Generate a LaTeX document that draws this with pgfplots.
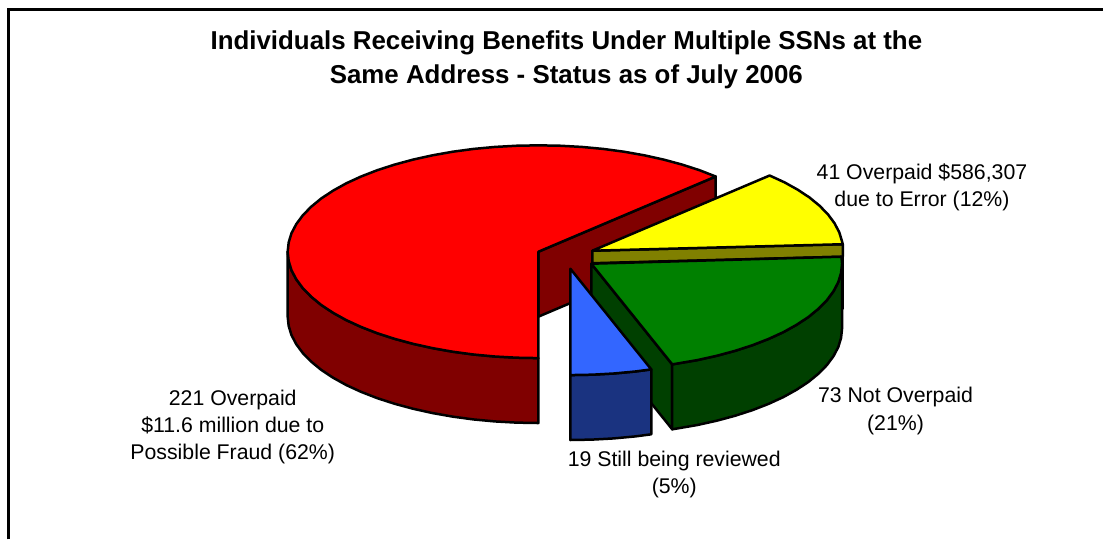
\documentclass[border=0pt]{standalone}
\usepackage{pgfplots}
\pgfplotsset{compat=1.18}
\usepackage{fontspec}
\setmainfont{Liberation Sans}
\definecolor{redtop}{HTML}{FF0000}
\definecolor{redwall}{HTML}{800000}
\definecolor{yeltop}{HTML}{FFFF00}
\definecolor{yelwall}{HTML}{808000}
\definecolor{grntop}{HTML}{008000}
\definecolor{grnwall}{HTML}{004000}
\definecolor{blutop}{HTML}{3366FF}
\definecolor{bluwall}{HTML}{1A3380}
\newcommand{\lab}{\fontsize{21.3}{24}\selectfont}
\newcommand{\ttl}{\fontsize{25.9}{28}\selectfont\bfseries}
\tikzset{lbl/.style={anchor=base, text=black, inner sep=0pt}}
\begin{document}
\begin{tikzpicture}
\begin{axis}[
  width=1104pt, height=540pt, scale only axis,
  xmin=0, xmax=1104, ymin=0, ymax=540, y dir=reverse,
  hide axis, clip=false,
  every axis plot/.append style={draw=black, line width=2.5pt, line join=round}
]
% keeps the page at the full chart size
\path (axis cs:0,0) rectangle (axis cs:1104,540);
% frame, only top and left
\addplot[line width=2.5pt, line join=miter] coordinates {(8.7,540) (8.7,9.5) (1104,9.5)};

% red slice: cut wall, outer wall, top
\addplot[fill=redwall] coordinates {(539,252) (716.5,176.7) (716.5,241.7) (539,317)} -- cycle;
\addplot[fill=redwall] coordinates {
  (288,252) (289,261.3) (291.8,270.5) (296.6,279.6) (303.1,288.4) (311.5,297)
  (321.6,305.3) (333.4,313.1) (346.7,320.5) (361.5,327.3) (377.7,333.6) (395,339.2)
  (413.5,344.2) (432.9,348.5) (453.2,352.1) (474,354.9) (495.4,356.9) (517.1,358.1) (539,358.5)
  (539,423.5) (517.1,423.1) (495.4,421.9) (474,419.9) (453.2,417.1) (432.9,413.5) (413.5,409.2)
  (395,404.2) (377.7,398.6) (361.5,392.3) (346.7,385.5) (333.4,378.1) (321.6,370.3) (311.5,362)
  (303.1,353.4) (296.6,344.6) (291.8,335.5) (289,326.3) (288,317)} -- cycle;
\addplot[fill=redtop] coordinates {
  (539,252) (716.5,176.7) (700.3,170.4) (683,164.8) (664.5,159.8) (645.1,155.5) (624.8,151.9)
  (604,149.1) (582.6,147.1) (560.9,145.9) (539,145.5) (517.1,145.9) (495.4,147.1) (474,149.1)
  (453.2,151.9) (432.9,155.5) (413.5,159.8) (395,164.8) (377.7,170.4) (361.5,176.7) (346.7,183.5)
  (333.4,190.9) (321.6,198.7) (311.5,207) (303.1,215.6) (296.6,224.4) (291.8,233.5) (289,242.7)
  (288,252) (289,261.3) (291.8,270.5) (296.6,279.6) (303.1,288.4) (311.5,297) (321.6,305.3)
  (333.4,313.1) (346.7,320.5) (361.5,327.3) (377.7,333.6) (395,339.2) (413.5,344.2) (432.9,348.5)
  (453.2,352.1) (474,354.9) (495.4,356.9) (517.1,358.1) (539,358.5)} -- cycle;

% yellow slice
\addplot[fill=yelwall] coordinates {(843.7,244.5) (843.7,309) (830,309) (830,244.5)} -- cycle;
\addplot[fill=yelwall] coordinates {(593,251) (843.7,244.5) (843.7,257) (593,263.5)} -- cycle;
\addplot[fill=yeltop] coordinates {
  (593,251) (770.5,175.7) (785.3,182.5) (798.6,189.9) (810.4,197.7) (820.5,206) (828.9,214.6)
  (835.4,223.4) (840.2,232.5) (843,241.7) (843.7,244.5)} -- cycle;

% green slice
\addplot[fill=grnwall] coordinates {(592,264) (673,364.8) (673,429.8) (592,329)} -- cycle;
\addplot[fill=grnwall] coordinates {
  (843,264) (842,273.3) (839.2,282.5) (834.4,291.6) (827.9,300.4) (819.5,309) (809.4,317.3)
  (797.6,325.1) (784.3,332.5) (769.5,339.3) (753.3,345.6) (736,351.2) (717.5,356.2) (698.1,360.5)
  (673,364.8) (673,429.8) (698.1,425.5) (717.5,421.2) (736,416.2) (753.3,410.6) (769.5,404.3)
  (784.3,397.5) (797.6,390.1) (809.4,382.3) (819.5,374) (827.9,365.4) (834.4,356.6) (839.2,347.5)
  (842,338.3) (843,329)} -- cycle;
\addplot[fill=grntop] coordinates {
  (592,264) (842.4,257) (843,264) (842,273.3) (839.2,282.5) (834.4,291.6) (827.9,300.4) (819.5,309)
  (809.4,317.3) (797.6,325.1) (784.3,332.5) (769.5,339.3) (753.3,345.6) (736,351.2) (717.5,356.2)
  (698.1,360.5) (673,364.8)} -- cycle;

% blue slice
\addplot[fill=bluwall] coordinates {
  (571,375.5) (592.9,375.1) (614.6,373.9) (636,371.9) (652,369.8)
  (652,434.8) (636,436.9) (614.6,438.9) (592.9,440.1) (571,440.5)} -- cycle;
\addplot[fill=blutop] coordinates {
  (571,269) (652,369.8) (636,371.9) (614.6,373.9) (592.9,375.1) (571,375.5)} -- cycle;

% title
\node[lbl] at (axis cs:567,50) {\ttl Individuals Receiving Benefits Under Multiple SSNs at the};
\node[lbl] at (axis cs:567,84) {\ttl Same Address - Status as of July 2006};
% slice labels
\node[lbl] at (axis cs:923,180) {\lab 41 Overpaid \$586,307};
\node[lbl] at (axis cs:923,207) {\lab due to Error (12\%)};
\node[lbl] at (axis cs:896.5,403) {\lab 73 Not Overpaid};
\node[lbl] at (axis cs:896.5,431) {\lab (21\%)};
\node[lbl] at (axis cs:675,467) {\lab 19 Still being reviewed};
\node[lbl] at (axis cs:675,494) {\lab (5\%)};
\node[lbl] at (axis cs:233,406) {\lab 221 Overpaid};
\node[lbl] at (axis cs:233,433) {\lab \$11.6 million due to};
\node[lbl] at (axis cs:233,460) {\lab Possible Fraud (62\%)};
\end{axis}
\end{tikzpicture}
\end{document}
